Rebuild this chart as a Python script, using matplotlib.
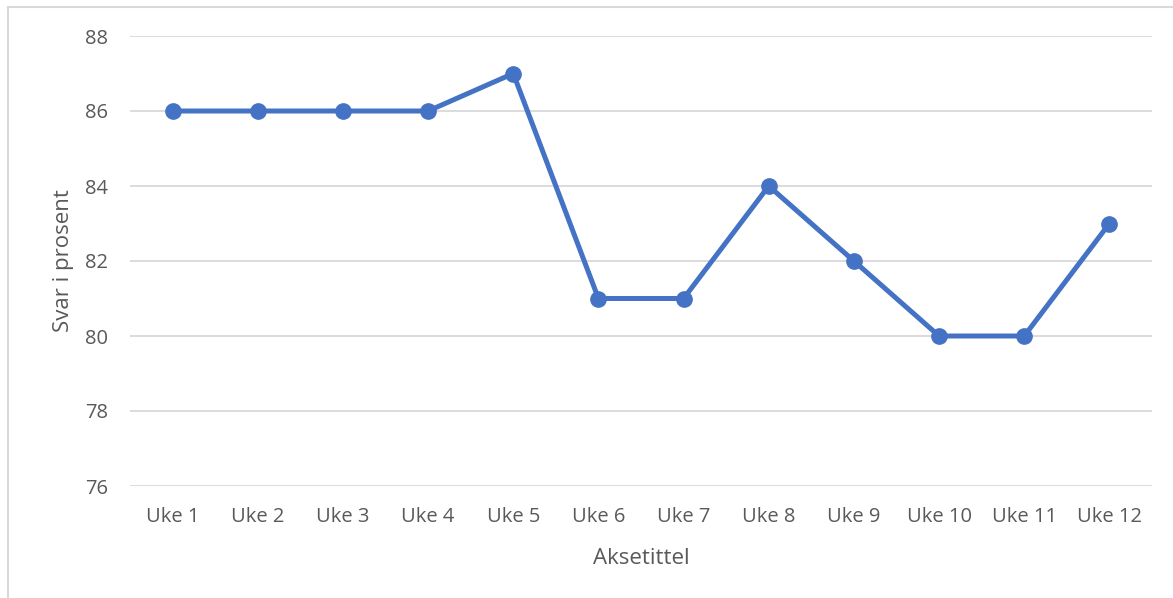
import matplotlib

matplotlib.use("Agg")
import matplotlib.pyplot as plt
from matplotlib.patches import Rectangle

# Ukentlig svarprosent
uker = [f"Uke {i}" for i in range(1, 13)]
svar = [86, 86, 86, 86, 87, 81, 81, 84, 82, 80, 80, 83]
y_ticks = [76, 78, 80, 82, 84, 86, 88]

TEXT = "#595959"
GRID = "#D9D9D9"
BLUE = "#4472C4"

plt.rcParams["font.family"] = ["Open Sans", "DejaVu Sans"]

W, H = 1173, 598
fig = plt.figure(figsize=(W / 100, H / 100), dpi=100)
ax = fig.add_axes([130 / W, 112 / H, 1022 / W, 450 / H])

x = range(len(uker))
ax.plot(x, svar, color=BLUE, lw=3.6, marker="o", ms=11,
        solid_joinstyle="round", solid_capstyle="round", zorder=3)

ax.set_xlim(-0.5, len(uker) - 0.5)
ax.set_ylim(76, 88)
ax.set_yticks(y_ticks)
ax.set_xticks(list(x))
ax.set_xticklabels(uker)
ax.grid(axis="y", color=GRID, lw=1.3)
ax.set_axisbelow(True)
for s in ax.spines.values():
    s.set_visible(False)
ax.tick_params(length=0, labelsize=14.5, labelcolor=TEXT)
ax.tick_params(axis="y", pad=16)
ax.tick_params(axis="x", pad=15)

ax.set_xlabel("Aksetittel", fontsize=16, color=TEXT, labelpad=15)
ax.set_ylabel("Svar i prosent", fontsize=16, color=TEXT, labelpad=8)

# diagramramme (bare venstre og øvre kant synlig)
fig.patches.append(Rectangle((8 / W, -0.1), 1.2, (H - 7) / H + 0.1,
                             transform=fig.transFigure, fill=False,
                             edgecolor=GRID, lw=1.5))

fig.savefig("out.png", dpi=100)
